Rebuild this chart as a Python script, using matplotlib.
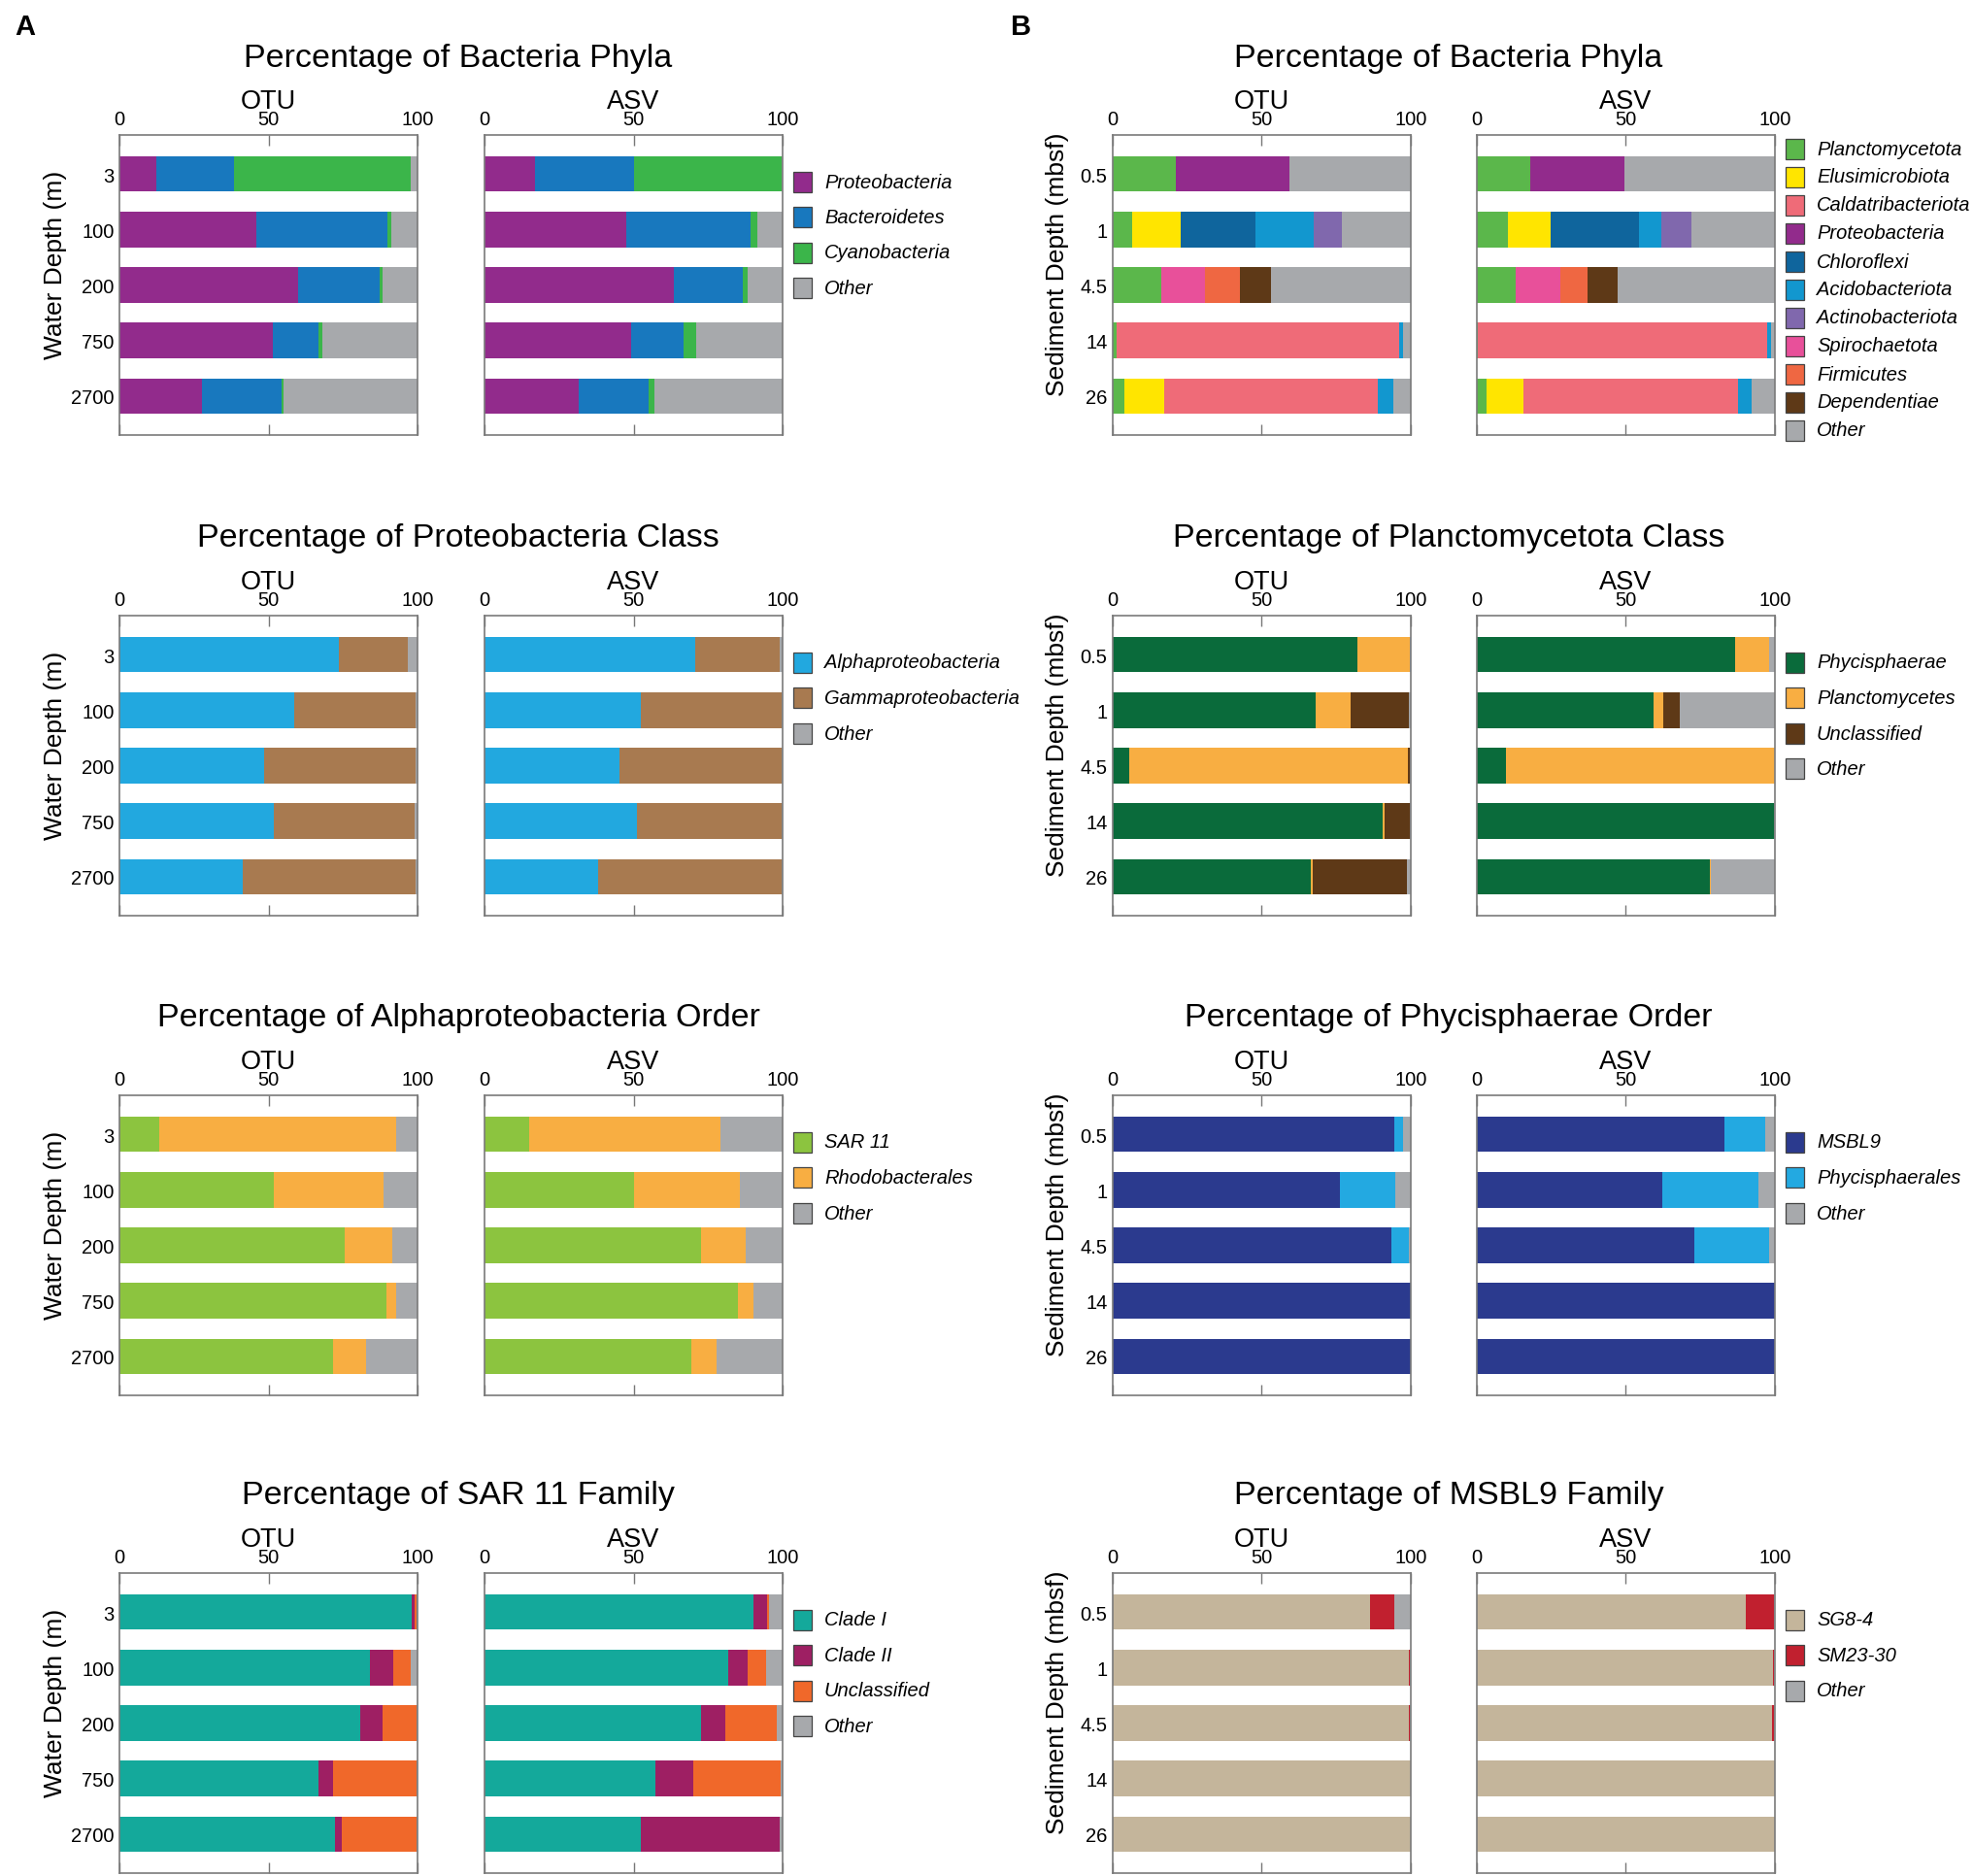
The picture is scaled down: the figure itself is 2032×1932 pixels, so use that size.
import matplotlib
matplotlib.use("Agg")
import matplotlib.pyplot as plt
import numpy as np
from matplotlib import font_manager
from matplotlib.patches import Rectangle

# ---------------------------------------------------------------- data
WATER_DEPTHS = ["3", "100", "200", "750", "2700"]
SED_DEPTHS = ["0.5", "1", "4.5", "14", "26"]
GRAY = "#a7a9ac"

# A: water column, bacteria phyla (rows = taxa, cols = depths)
A1_TAXA = ["Proteobacteria", "Bacteroidetes", "Cyanobacteria", "Other"]
A1_COLORS = ["#922b8c", "#1878be", "#3bb54a", GRAY]
A1_OTU = [[12.4, 45.9, 60.0, 51.4, 27.8],
          [26.0, 43.9, 27.2, 15.3, 26.7],
          [59.2, 1.4, 1.1, 1.5, 0.7],
          [2.4, 8.8, 11.7, 31.8, 44.8]]
A1_ASV = [[17.0, 47.5, 63.4, 49.2, 31.6],
          [33.3, 41.9, 23.1, 17.5, 23.4],
          [49.3, 2.2, 1.8, 4.2, 2.0],
          [0.4, 8.4, 11.7, 29.1, 43.0]]

A2_TAXA = ["Alphaproteobacteria", "Gammaproteobacteria", "Other"]
A2_COLORS = ["#22a8df", "#a87a50", GRAY]
A2_OTU = [[73.5, 58.5, 48.6, 51.7, 41.5],
          [23.4, 40.8, 50.7, 47.4, 57.8],
          [3.1, 0.7, 0.7, 0.9, 0.7]]
A2_ASV = [[70.6, 52.5, 45.3, 51.2, 38.2],
          [28.5, 47.1, 54.5, 48.4, 61.6],
          [0.9, 0.4, 0.2, 0.4, 0.2]]

A3_TAXA = ["SAR 11", "Rhodobacterales", "Other"]
A3_COLORS = ["#8cc43f", "#f8ae42", GRAY]
A3_OTU = [[13.2, 51.7, 75.5, 89.6, 71.5],
          [79.7, 36.8, 15.9, 3.3, 11.1],
          [7.1, 11.5, 8.6, 7.1, 17.4]]
A3_ASV = [[15.0, 50.1, 72.6, 85.0, 69.5],
          [64.0, 35.6, 15.0, 5.3, 8.2],
          [21.0, 14.3, 12.4, 9.7, 22.3]]

A4_TAXA = ["Clade I", "Clade II", "Unclassified", "Other"]
A4_COLORS = ["#14a99b", "#9e1f63", "#f0682a", GRAY]
A4_OTU = [[98.0, 83.9, 80.8, 66.7, 72.2],
          [0.9, 7.9, 7.5, 4.8, 2.4],
          [0.7, 5.8, 11.3, 28.1, 25.0],
          [0.4, 2.4, 0.4, 0.4, 0.4]]
A4_ASV = [[90.3, 81.7, 72.6, 57.4, 52.5],
          [4.4, 6.6, 8.2, 12.6, 46.6],
          [0.7, 6.2, 17.2, 29.3, 0.0],
          [4.6, 5.5, 2.0, 0.7, 0.9]]

# B: sediment, bacteria phyla
B1_TAXA = ["Planctomycetota", "Elusimicrobiota", "Caldatribacteriota", "Proteobacteria",
           "Chloroflexi", "Acidobacteriota", "Actinobacteriota", "Spirochaetota",
           "Firmicutes", "Dependentiae", "Other"]
B1_COLORS = ["#5bb74b", "#ffe500", "#ef6b78", "#922b8c", "#0f659d", "#1297cf",
             "#8068ad", "#e8509a", "#ef6742", "#5e3917", GRAY]
B1_OTU = [[21.2, 6.6, 16.3, 1.2, 3.9],
          [0, 16.3, 0, 0, 13.4],
          [0, 0, 0, 94.9, 71.6],
          [38.2, 0, 0, 0, 0],
          [0, 24.9, 0, 0, 0],
          [0, 19.6, 0, 1.4, 5.3],
          [0, 9.5, 0, 0, 0],
          [0, 0, 14.8, 0, 0],
          [0, 0, 11.6, 0, 0],
          [0, 0, 10.5, 0, 0],
          [40.6, 23.1, 46.8, 2.5, 5.8]]
B1_ASV = [[18.0, 10.3, 13.0, 0.4, 3.1],
          [0, 14.5, 0, 0, 12.6],
          [0, 0, 0, 97.1, 71.9],
          [31.4, 0, 0, 0, 0],
          [0, 29.5, 0, 0, 0],
          [0, 7.5, 0, 1.1, 4.5],
          [0, 10.3, 0, 0, 0],
          [0, 0, 14.9, 0, 0],
          [0, 0, 9.1, 0, 0],
          [0, 0, 10.1, 0, 0],
          [50.6, 27.9, 52.9, 1.4, 7.9]]

B2_TAXA = ["Phycisphaerae", "Planctomycetes", "Unclassified", "Other"]
B2_COLORS = ["#0a6b3b", "#f8ae42", "#5e3917", GRAY]
B2_OTU = [[82.1, 68.0, 5.6, 90.7, 66.6],
          [17.5, 11.8, 93.4, 0.6, 0.4],
          [0, 19.6, 0.6, 8.5, 31.6],
          [0.4, 0.6, 0.4, 0.2, 1.4]]
B2_ASV = [[86.6, 59.3, 9.9, 99.6, 78.1],
          [11.3, 3.3, 90.1, 0, 0.4],
          [0, 5.6, 0, 0, 0],
          [2.1, 31.8, 0, 0.4, 21.5]]

B3_TAXA = ["MSBL9", "Phycisphaerales", "Other"]
B3_COLORS = ["#2b3a8e", "#23a9e1", GRAY]
B3_OTU = [[94.4, 76.3, 93.6, 100, 100],
          [3.1, 18.5, 5.8, 0, 0],
          [2.5, 5.2, 0.6, 0, 0]]
B3_ASV = [[82.9, 62.2, 73.1, 100, 100],
          [13.8, 32.4, 25.0, 0, 0],
          [3.3, 5.4, 1.9, 0, 0]]

B4_TAXA = ["SG8-4", "SM23-30", "Other"]
B4_COLORS = ["#c4b59b", "#c1202f", GRAY]
B4_OTU = [[86.2, 99.4, 99.2, 100, 100],
          [8.2, 0.4, 0.6, 0, 0],
          [5.6, 0.2, 0.2, 0, 0]]
B4_ASV = [[90.1, 99.4, 99.0, 100, 100],
          [9.5, 0.4, 0.6, 0, 0],
          [0.4, 0.2, 0.4, 0, 0]]

# ---------------------------------------------------------------- style
names = {f.name for f in font_manager.fontManager.ttflist}
FONT = "Liberation Sans" if "Liberation Sans" in names else "DejaVu Sans"
plt.rcParams["font.family"] = FONT

W, H = 2033, 1933
fig = plt.figure(figsize=(W / 100, H / 100), dpi=100)

ROW_TOPS = [140, 635, 1129, 1621]
AX_H, AX_W = 309, 307
COL_LEFTS = {"A": (123, 499), "B": (1146, 1521)}
TITLE_X = {"A": 472, "B": 1492}
YLABEL_X = {"A": 57, "B": 1089}
LEG_X = {"A": 817, "B": 1839}


def fx(px):
    return px / W


def fy(py):
    return 1 - py / H


def add_axes(left, top):
    return fig.add_axes([fx(left), fy(top + AX_H), AX_W / W, AX_H / H])


def stacked(ax, depths, values, colors, show_yticks):
    y = np.arange(len(depths))
    left = np.zeros(len(depths))
    for vals, col in zip(values, colors):
        vals = np.asarray(vals, dtype=float)
        ax.barh(y, vals, left=left, height=0.64, color=col, linewidth=0)
        left += vals
    ax.set_xlim(0, 100)
    ax.set_ylim(4.7, -0.7)
    ax.set_xticks([0, 50, 100])
    ax.tick_params(axis="x", which="both", direction="in", top=True, bottom=True,
                   labeltop=True, labelbottom=False, length=8, width=1,
                   color="#777777", labelsize=14.5, pad=5)
    ax.set_yticks(y)
    if show_yticks:
        ax.set_yticklabels(depths)
    else:
        ax.set_yticklabels([])
    ax.tick_params(axis="y", length=0, labelsize=14.5, pad=4)
    for sp in ax.spines.values():
        sp.set_color("#7a7a7a")
        sp.set_linewidth(1.2)


def legend(col, first_y, step, taxa, colors):
    x = LEG_X[col]
    for i, (taxon, c) in enumerate(zip(taxa, colors)):
        yc = first_y + i * step
        fig.add_artist(Rectangle((fx(x), fy(yc + 10.5)), 19 / W, 21 / H,
                                 transform=fig.transFigure, facecolor=c,
                                 edgecolor="#444444", linewidth=0.9))
        fig.text(fx(x + 32), fy(yc), taxon, fontsize=14.5, style="italic",
                 ha="left", va="center")


def panel(col, row, title, ylabel, depths, taxa, colors, otu, asv,
          leg_offset=48, leg_step=36.5):
    top = ROW_TOPS[row]
    l_otu, l_asv = COL_LEFTS[col]
    ax1 = add_axes(l_otu, top)
    ax2 = add_axes(l_asv, top)
    stacked(ax1, depths, otu, colors, True)
    stacked(ax2, depths, asv, colors, False)
    for left, name in ((l_otu, "OTU"), (l_asv, "ASV")):
        fig.text(fx(left + AX_W / 2), fy(top - 35), name, fontsize=19.5,
                 ha="center", va="center")
    fig.text(fx(TITLE_X[col]), fy(top - 80), title, fontsize=24.5,
             ha="center", va="center")
    fig.text(fx(YLABEL_X[col]), fy(top + AX_H / 2 - 22), ylabel, fontsize=19,
             rotation=90, ha="center", va="center")
    legend(col, top + leg_offset, leg_step, taxa, colors)


WD = "Water Depth (m)"
SD = "Sediment Depth (mbsf)"

panel("A", 0, "Percentage of Bacteria Phyla", WD, WATER_DEPTHS, A1_TAXA, A1_COLORS, A1_OTU, A1_ASV)
panel("A", 1, "Percentage of Proteobacteria Class", WD, WATER_DEPTHS, A2_TAXA, A2_COLORS, A2_OTU, A2_ASV)
panel("A", 2, "Percentage of Alphaproteobacteria Order", WD, WATER_DEPTHS, A3_TAXA, A3_COLORS, A3_OTU, A3_ASV)
panel("A", 3, "Percentage of SAR 11 Family", WD, WATER_DEPTHS, A4_TAXA, A4_COLORS, A4_OTU, A4_ASV)

panel("B", 0, "Percentage of Bacteria Phyla", SD, SED_DEPTHS, B1_TAXA, B1_COLORS, B1_OTU, B1_ASV,
      leg_offset=14, leg_step=29)
panel("B", 1, "Percentage of Planctomycetota Class", SD, SED_DEPTHS, B2_TAXA, B2_COLORS, B2_OTU, B2_ASV)
panel("B", 2, "Percentage of Phycisphaerae Order", SD, SED_DEPTHS, B3_TAXA, B3_COLORS, B3_OTU, B3_ASV)
panel("B", 3, "Percentage of MSBL9 Family", SD, SED_DEPTHS, B4_TAXA, B4_COLORS, B4_OTU, B4_ASV)

fig.text(fx(26), fy(28), "A", fontsize=21, fontweight="bold", ha="center", va="center")
fig.text(fx(1052), fy(28), "B", fontsize=21, fontweight="bold", ha="center", va="center")

fig.savefig("out.png", dpi=100, facecolor="white")
